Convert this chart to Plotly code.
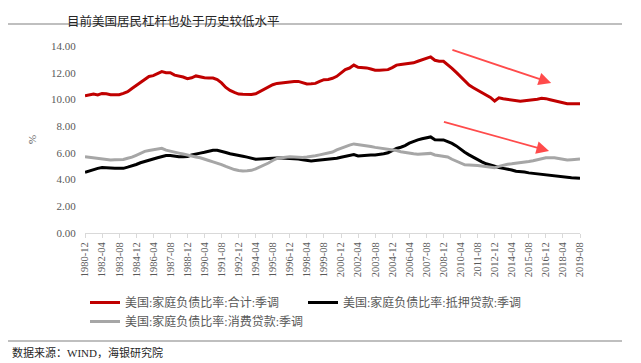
import pandas as pd
import plotly.graph_objects as go

# 4-month sampling from 1980-12 to 2019-08
dates = pd.date_range("1980-12-01", periods=117, freq="4MS")

total = [10.27, 10.34, 10.40, 10.33, 10.45, 10.42, 10.35, 10.35, 10.35, 10.45,
         10.58, 10.82, 11.05, 11.27, 11.55, 11.72, 11.78, 11.93, 12.08, 12.00,
         12.00, 11.82, 11.76, 11.68, 11.55, 11.62, 11.76, 11.68, 11.62, 11.60,
         11.60, 11.48, 11.24, 10.90, 10.67, 10.52, 10.40, 10.38, 10.35, 10.37,
         10.42, 10.58, 10.78, 10.96, 11.10, 11.20, 11.24, 11.28, 11.33, 11.35,
         11.35, 11.28, 11.16, 11.17, 11.20, 11.35, 11.48, 11.50, 11.58, 11.73,
         12.00, 12.24, 12.35, 12.57, 12.40, 12.38, 12.36, 12.28, 12.19, 12.18,
         12.23, 12.23, 12.38, 12.57, 12.61, 12.65, 12.69, 12.74, 12.86, 12.97,
         13.05, 13.18, 12.93, 12.86, 12.86, 12.63, 12.33, 12.02, 11.69, 11.37,
         11.07, 10.88, 10.69, 10.49, 10.31, 10.15, 9.88, 10.12, 10.05, 10.00,
         9.94, 9.88, 9.86, 9.90, 9.93, 9.97, 10.02, 10.08, 10.06, 9.98,
         9.90, 9.82, 9.72, 9.68, 9.68, 9.68, 9.68]

mortgage = [4.54, 4.65, 4.77, 4.84, 4.90, 4.90, 4.86, 4.84, 4.84, 4.84,
            4.93, 5.01, 5.13, 5.26, 5.37, 5.45, 5.54, 5.63, 5.71, 5.80,
            5.80, 5.74, 5.71, 5.71, 5.73, 5.84, 5.93, 5.98, 6.04, 6.11,
            6.19, 6.20, 6.14, 6.03, 5.93, 5.85, 5.80, 5.74, 5.68, 5.60,
            5.52, 5.54, 5.57, 5.61, 5.64, 5.62, 5.61, 5.60, 5.58, 5.56,
            5.54, 5.49, 5.44, 5.40, 5.43, 5.46, 5.50, 5.52, 5.54, 5.59,
            5.67, 5.75, 5.82, 5.87, 5.77, 5.80, 5.84, 5.84, 5.84, 5.87,
            5.93, 6.01, 6.17, 6.33, 6.42, 6.54, 6.73, 6.88, 6.97, 7.06,
            7.15, 7.19, 6.98, 6.97, 6.97, 6.84, 6.71, 6.52, 6.26, 6.05,
            5.85, 5.66, 5.50, 5.33, 5.18, 5.07, 4.97, 4.90, 4.84, 4.79,
            4.72, 4.62, 4.60, 4.56, 4.50, 4.46, 4.44, 4.40, 4.36, 4.32,
            4.27, 4.21, 4.17, 4.15, 4.13, 4.11, 4.09]

consumer = [5.70, 5.66, 5.62, 5.58, 5.54, 5.50, 5.47, 5.48, 5.50, 5.51,
            5.60, 5.68, 5.82, 5.98, 6.11, 6.18, 6.24, 6.29, 6.34, 6.20,
            6.11, 6.05, 5.98, 5.91, 5.82, 5.75, 5.69, 5.63, 5.55, 5.43,
            5.33, 5.24, 5.12, 4.98, 4.84, 4.75, 4.68, 4.64, 4.66, 4.69,
            4.80, 4.93, 5.06, 5.24, 5.43, 5.58, 5.63, 5.68, 5.71, 5.69,
            5.67, 5.66, 5.69, 5.71, 5.78, 5.85, 5.91, 5.95, 6.06, 6.22,
            6.36, 6.47, 6.58, 6.67, 6.63, 6.60, 6.54, 6.48, 6.41, 6.37,
            6.34, 6.30, 6.25, 6.17, 6.09, 6.02, 5.97, 5.93, 5.90, 5.92,
            5.95, 5.96, 5.84, 5.79, 5.79, 5.69, 5.52, 5.39, 5.27, 5.10,
            5.09, 5.09, 5.06, 5.02, 4.98, 4.94, 4.89, 4.99, 5.09, 5.15,
            5.18, 5.21, 5.24, 5.29, 5.35, 5.41, 5.49, 5.57, 5.64, 5.64,
            5.64, 5.58, 5.51, 5.47, 5.49, 5.52, 5.54]

names = ["美国:家庭负债比率:合计:季调", "美国:家庭负债比率:抵押贷款:季调",
         "美国:家庭负债比率:消费贷款:季调"]
colors = ["#C00000", "#000000", "#A6A6A6"]

# trend arrows: (start date, start value, end date, end value)
arrows = [("2009-07-01", 13.74, "2017-05-01", 11.23),
          ("2008-11-01", 8.35, "2017-03-01", 6.14)]

FONT = "Liberation Serif, Noto Sans CJK SC, serif"

# page body has an 8px margin; figure is sized/placed to compensate
W, H = 633, 355
OFF = 8
PL, PT, PW, PH = 85, 46, 495, 187  # plot area in window pixels


def px(xp):
    return (xp - PL) / PW


def py(yp):
    return (PT + PH - yp) / PH


fig = go.Figure()
for name, ys, c in zip(names, [total, mortgage, consumer], colors):
    fig.add_trace(go.Scatter(x=dates, y=ys, mode="lines", name=name,
                             line=dict(color=c, width=3)))

for sx, sy, ex, ey in arrows:
    fig.add_annotation(x=ex, y=ey, ax=sx, ay=sy, xref="x", yref="y",
                       axref="x", ayref="y", text="", showarrow=True,
                       arrowhead=2, arrowsize=1.4, arrowwidth=1.8,
                       arrowcolor="#FF4B4B")

fig.update_layout(
    width=W, height=H,
    margin=dict(l=PL - OFF, r=W - (PL - OFF) - PW, t=PT - OFF, b=H - (PT - OFF) - PH),
    paper_bgcolor="white", plot_bgcolor="white",
    font=dict(family=FONT, color="#595959", size=11),
    showlegend=True,
    legend=dict(orientation="h", x=0.0, y=py(288), xanchor="left", yanchor="top",
                entrywidth=173, entrywidthmode="pixels",
                font=dict(family=FONT, size=12, color="#595959"),
                tracegroupgap=0, itemwidth=30),
    xaxis=dict(type="date", range=["1980-12-01", "2019-08-01"],
               tick0="1980-12-01", dtick="M16", tickformat="%Y-%m",
               tickangle=-90, tickfont=dict(size=10.5, family=FONT, color="#595959"),
               showline=True, linecolor="#D9D9D9", linewidth=1,
               ticks="outside", ticklen=4, tickcolor="#D9D9D9",
               showgrid=False, zeroline=False),
    yaxis=dict(range=[0, 14], dtick=2, tickformat=".2f",
               tickfont=dict(size=11, family=FONT, color="#595959"),
               showgrid=False, zeroline=False, showline=False,
               ticks="outside", ticklen=6, tickcolor="rgba(0,0,0,0)",
               title=dict(text="%", font=dict(size=11, color="#595959"), standoff=12)),
)

fig.add_annotation(text="目前美国居民杠杆也处于历史较低水平", xref="paper", yref="paper",
                   x=px(65), y=py(9), xanchor="left", yanchor="top",
                   showarrow=False,
                   font=dict(family="Noto Sans CJK SC", size=12.5, color="#262626"))
fig.add_annotation(text="数据来源：WIND，海银研究院", xref="paper", yref="paper",
                   x=px(10), y=py(352), xanchor="left", yanchor="middle",
                   showarrow=False,
                   font=dict(family=FONT, size=11, color="#262626"))

for ypx in [24, 341]:
    fig.add_shape(type="line", xref="paper", yref="paper",
                  x0=px(0), x1=px(622), y0=py(ypx), y1=py(ypx),
                  line=dict(color="#BFBFBF", width=2))

fig.write_html("out.html")
